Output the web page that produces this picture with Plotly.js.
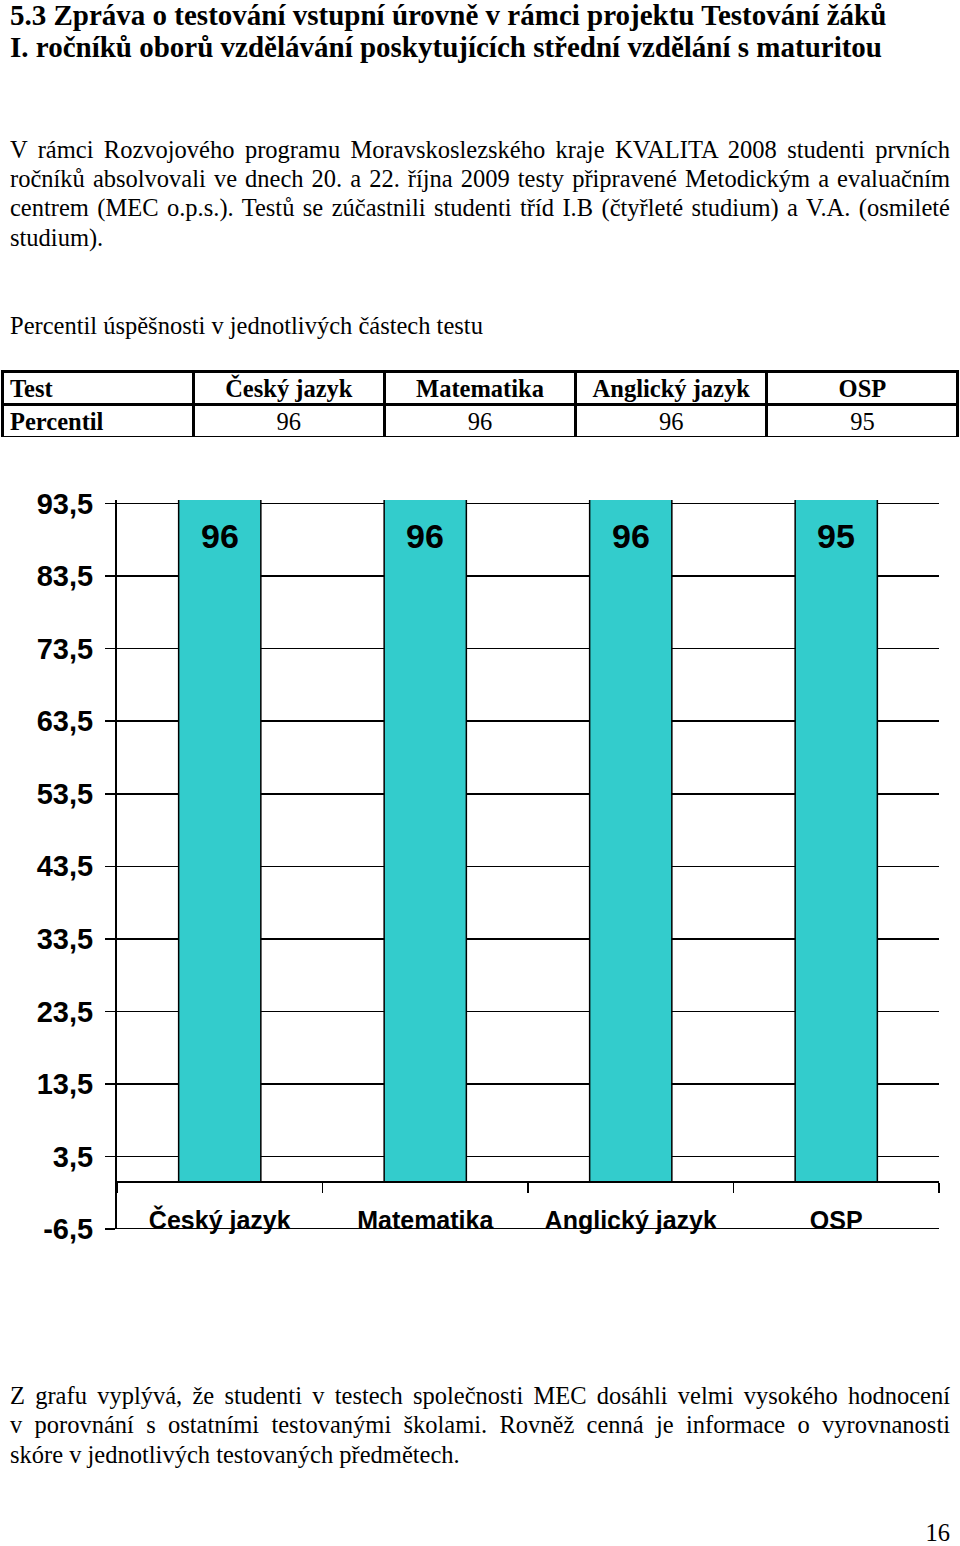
<!DOCTYPE html>
<html>
<head>
<meta charset="utf-8">
<script src="https://cdn.plot.ly/plotly-3.0.1.min.js"></script>
<style>
  html, body { margin:0; padding:0; background:#fff; }
  #page { position:relative; width:960px; height:1546px; overflow:hidden; background:#fff; }
  .ln { position:absolute; left:10px; width:940px; white-space:nowrap; color:#000; }
  .serif { font-family:"Liberation Serif","Times New Roman",serif; }
  .just { text-align:justify; text-align-last:justify; white-space:normal; }
  #chart { position:absolute; left:0; top:360px; width:960px; height:900px; }
</style>
</head>
<body>
<div id="page"></div>
<script>
// ---------- data ----------
const headingLines = [
  "5.3 Zpráva o testování vstupní úrovně v rámci projektu Testování žáků",
  "I. ročníků oborů vzdělávání poskytujících střední vzdělání s maturitou"
];
const introLines = [
  "V rámci Rozvojového programu Moravskoslezského kraje  KVALITA 2008 studenti prvních",
  "ročníků absolvovali ve dnech 20. a 22. října 2009 testy připravené Metodickým a evaluačním",
  "centrem (MEC o.p.s.). Testů se zúčastnili studenti tříd I.B (čtyřleté studium) a V.A. (osmileté",
  "studium)."
];
const tableCaption = "Percentil úspěšnosti v jednotlivých částech testu";
const rowHeaders = ["Test", "Percentil"];
const categories = ["Český jazyk", "Matematika", "Anglický jazyk", "OSP"];
const percentiles = [96, 96, 96, 95];
const conclusionLines = [
  "Z grafu vyplývá, že studenti v testech společnosti MEC dosáhli velmi vysokého hodnocení",
  "v porovnání s ostatními testovanými školami. Rovněž cenná je informace o vyrovnanosti",
  "skóre v jednotlivých testovaných předmětech."
];
const pageNumber = "16";

// ---------- text ----------
const page = document.getElementById('page');
function addLine(text, center, size, opts) {
  opts = opts || {};
  const lh = opts.lh || size;
  const d = document.createElement('div');
  d.className = 'ln serif' + (opts.justify ? ' just' : '');
  let top = Math.max(0, center - lh/2);
  top = Math.min(top, 1546 - lh);
  d.style.top = top + 'px';
  d.style.fontSize = size + 'px';
  d.style.lineHeight = lh + 'px';
  d.style.height = lh + 'px';
  if (opts.bold) d.style.fontWeight = 'bold';
  if (opts.right) { d.style.textAlign = 'right'; }
  d.textContent = text;
  page.appendChild(d);
  return d;
}
const hSize = 29;
[13, 47].forEach((c, i) => addLine(headingLines[i], c, hSize, {bold:true, lh: 30}));
const bSize = 24.5;
[150, 179, 208, 238].forEach((c, i) => addLine(introLines[i], c, bSize, {justify: i < introLines.length - 1}));
addLine(tableCaption, 326, bSize);
[1396, 1425, 1455].forEach((c, i) => addLine(conclusionLines[i], c, bSize, {justify: i < conclusionLines.length - 1}));
addLine(pageNumber, 1535, bSize, {right:true, lh: 26});

// ---------- chart ----------
const chartDiv = document.createElement('div');
chartDiv.id = 'chart';
page.appendChild(chartDiv);

const H = 900, W = 960;
const yRange = [-6.5, 94];
const yDom = [1 - 869/H, 1 - 140/H];
const xDom = [117/W, 939/W];
const zeroPos = yDom[0] + (0 - yRange[0]) / (yRange[1] - yRange[0]) * (yDom[1] - yDom[0]);

// axis tick positions (every 10 starting at the range minimum)
const yTickVals = [];
for (let v = yRange[0]; v <= yRange[1]; v += 10) yTickVals.push(v);
const yTickText = yTickVals.map(v => v.toFixed(1).replace('.', ','));

const serif = "Liberation Serif, Times New Roman, serif";
const sans = "Liberation Sans, Arial, sans-serif";

const tableTrace = {
  type: 'table',
  domain: {x: [2/W, 958/W], y: [1 - 77/H, 1 - 11/H]},
  columnwidth: [1, 1, 1, 1, 1],
  header: {
    values: [rowHeaders[0]].concat(categories),
    align: ['left', 'center', 'center', 'center', 'center'],
    height: 33,
    line: {color: '#000', width: 3},
    fill: {color: '#fff'},
    font: {family: serif, size: 24.5, color: '#000', weight: 'bold'}
  },
  cells: {
    values: [[rowHeaders[1]]].concat(percentiles.map(v => [String(v)])),
    align: ['left', 'center', 'center', 'center', 'center'],
    height: 33,
    line: {color: '#000', width: 3},
    fill: {color: '#fff'},
    font: {family: serif, size: 24.5, color: '#000', weight: ['bold', 'normal', 'normal', 'normal', 'normal']}
  }
};

const barTrace = {
  type: 'bar',
  x: categories,
  y: percentiles,
  marker: {color: '#33CCCC', line: {color: '#000', width: 1.5}},
  hoverinfo: 'none',
  cliponaxis: true
};

const labelY = 89.1;
const annotations = categories.map((c, i) => ({
  x: c, y: labelY, xref: 'x', yref: 'y',
  text: String(percentiles[i]),
  showarrow: false,
  font: {family: sans, size: 34, color: '#000', weight: 'bold'}
}));

const layout = {
  width: W, height: H,
  margin: {l: 0, r: 0, t: 0, b: 0},
  paper_bgcolor: '#fff', plot_bgcolor: '#fff',
  showlegend: false,
  bargap: 0.6,
  xaxis: {
    type: 'category',
    domain: xDom,
    range: [-0.5, 3.5],
    anchor: 'free',
    position: zeroPos,
    showline: true, linecolor: '#000', linewidth: 2,
    showgrid: false, zeroline: false,
    ticks: 'outside', tickson: 'boundaries', ticklen: 10, tickwidth: 1.5, tickcolor: '#000',
    tickfont: {family: sans, size: 25, color: '#000', weight: 'bold'},
    ticklabelstandoff: 16,
    fixedrange: true
  },
  yaxis: {
    domain: yDom,
    range: yRange,
    tickmode: 'array', tickvals: yTickVals, ticktext: yTickText,
    showline: true, linecolor: '#000', linewidth: 2,
    showgrid: true, gridcolor: '#000', gridwidth: 1.5,
    zeroline: false,
    ticks: 'outside', ticklen: 10, tickwidth: 1.5, tickcolor: '#000',
    tickfont: {family: sans, size: 29, color: '#000', weight: 'bold'},
    ticklabelstandoff: 6,
    fixedrange: true
  },
  shapes: [{
    type: 'line', xref: 'x domain', yref: 'y',
    x0: 0, x1: 1, y0: yRange[0], y1: yRange[0],
    line: {color: '#000', width: 2}
  }],
  annotations: annotations
};

Plotly.newPlot(chartDiv, [tableTrace, barTrace], layout, {displayModeBar: false, staticPlot: true});
</script>
</body>
</html>
